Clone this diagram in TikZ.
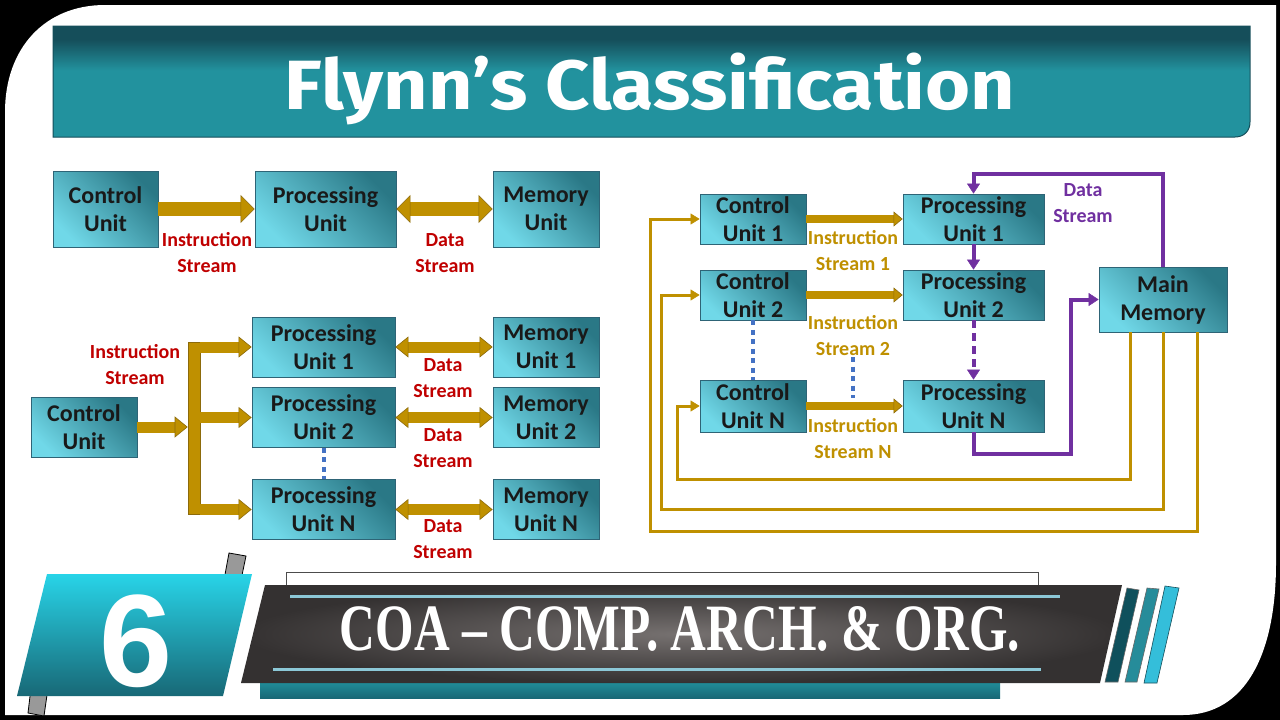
\documentclass[tikz,border=0pt]{standalone}
\usepackage{graphicx}
\usepackage{fontspec}
\setmainfont{Carlito}
\newfontfamily\titlefont{Fira Sans}
\newfontfamily\numfont{Liberation Sans}
\newfontfamily\bannerfont{Liberation Serif}
\usetikzlibrary{arrows.meta, positioning, calc}

\definecolor{boxlight}{RGB}{112,216,232}
\definecolor{boxdark}{RGB}{42,120,134}
\definecolor{boxedge}{RGB}{46,100,118}
\definecolor{gold}{RGB}{191,144,0}
\definecolor{golddark}{RGB}{140,106,10}
\definecolor{streamred}{RGB}{192,0,0}
\definecolor{streampurple}{RGB}{112,48,160}
\definecolor{dotblue}{RGB}{68,114,196}
\definecolor{tealdark}{RGB}{21,78,90}
\definecolor{tealmid}{RGB}{34,146,158}
\definecolor{tealdeep}{RGB}{24,104,118}
\definecolor{cyanbright}{RGB}{40,212,232}
\definecolor{greydark}{RGB}{52,49,49}
\definecolor{greymid}{RGB}{118,113,112}
\definecolor{linecyan}{RGB}{140,200,215}

\pgfdeclareverticalshading{titleband}{100bp}{color(0bp)=(tealmid); color(55bp)=(tealmid); color(69bp)=(tealdark); color(100bp)=(tealdark)}

\begin{document}
\begin{tikzpicture}[x=1pt, y=-1pt,
    % Node styles
    unit/.style={rectangle, draw=boxedge, line width=0.8pt, left color=boxlight, right color=boxdark, shading angle=135, align=center, font=\fontsize{24}{28}\selectfont\bfseries, text=black!90, inner sep=0pt},
    redlabel/.style={font=\fontsize{20}{26}\selectfont\bfseries, text=streamred, align=center, inner sep=0pt},
    goldlabel/.style={font=\fontsize{20}{26}\selectfont\bfseries, text=gold, align=center, inner sep=0pt},
    purplelabel/.style={font=\fontsize{20}{26}\selectfont\bfseries, text=streampurple, align=center, inner sep=0pt},
    % Connector styles
    fat/.style={line width=14pt, draw=gold, -{Triangle[length=14pt, width=28pt, line width=0.6pt, color=golddark, fill=gold]}},
    fatboth/.style={line width=14pt, draw=gold, {Triangle[length=14pt, width=28pt, line width=0.6pt, color=golddark, fill=gold]}-{Triangle[length=14pt, width=28pt, line width=0.6pt, color=golddark, fill=gold]}},
    mid/.style={line width=11pt, draw=gold, -{Triangle[length=13pt, width=21pt, line width=0.6pt, color=golddark, fill=gold]}},
    midboth/.style={line width=11pt, draw=gold, {Triangle[length=13pt, width=21pt, line width=0.6pt, color=golddark, fill=gold]}-{Triangle[length=13pt, width=21pt, line width=0.6pt, color=golddark, fill=gold]}},
    slim/.style={line width=8pt, draw=gold, -{Triangle[length=9pt, width=15pt, line width=0.6pt, color=golddark, fill=gold]}},
    feedback/.style={line width=3pt, draw=gold, -{Triangle[length=9pt, width=11pt, line width=0.5pt]}},
    dataline/.style={line width=4pt, draw=streampurple, -{Triangle[length=10pt, width=13pt, line width=0.5pt]}},
    dots/.style={line width=4pt, draw=dotblue, dash pattern=on 5pt off 4.5pt},
]
\useasboundingbox (0,0) rectangle (1280,720);

% === Frame ===
\fill[black] (0,0) rectangle (1280,720);
\fill[white] (5,112) .. controls (5,48) and (45,5) .. (105,5) -- (1276,5) -- (1276,563) .. controls (1276,655) and (1245,715) .. (1183,715) -- (5,715) -- cycle;

% === Title ===
\shade[shading=titleband, draw=tealdark, line width=1pt] (53,26) -- (1250,26) -- (1250,122) .. controls (1250,131) and (1244,137) .. (1235,137) -- (53,137) -- cycle;
\node[text=white, inner sep=0pt] (title) at (650,89) {\resizebox*{730pt}{72pt}{\titlefont\bfseries Flynn’s Classification}};

% === SISD ===
\node[unit, minimum width=105pt, minimum height=76pt] (cuA) at (105.5,209) {Control\\Unit};
\node[unit, minimum width=141pt, minimum height=76pt] (puA) at (325.5,209) {Processing\\Unit};
\node[unit, minimum width=106pt, minimum height=76pt] (muA) at (546,209) {Memory\\Unit};
\draw[fat] (cuA) -- (puA);
\draw[fatboth] (puA) -- (muA);
\node[redlabel] (isA) at (207,253) {Instruction\\Stream};
\node[redlabel] (dsA) at (445,253) {Data\\Stream};

% === SIMD ===
\node[unit, minimum width=106pt, minimum height=60pt] (cuB) at (84,427) {Control\\Unit};
\node[fill=gold, draw=golddark, line width=0.6pt, minimum width=12pt, minimum height=172pt, inner sep=0pt] (bus) at (194,428) {};
\node[unit, minimum width=143pt, minimum height=60pt] (puB1) at (323.5,347) {Processing\\Unit 1};
\node[unit, minimum width=143pt, minimum height=60pt] (puB2) at (323.5,417.5) {Processing\\Unit 2};
\node[unit, minimum width=143pt, minimum height=60pt] (puBn) at (323.5,509.5) {Processing\\Unit N};
\node[unit, minimum width=106pt, minimum height=60pt] (muB1) at (546,347) {Memory\\Unit 1};
\node[unit, minimum width=106pt, minimum height=60pt] (muB2) at (546,417.5) {Memory\\Unit 2};
\node[unit, minimum width=106pt, minimum height=60pt] (muBn) at (546,509.5) {Memory\\Unit N};

\draw[mid] (cuB) -- (bus.west |- cuB);
\foreach \p in {puB1, puB2, puBn}
    \draw[mid] (bus.east |- \p) -- (\p);
\draw[midboth] (puB1) -- (muB1);
\draw[midboth] (puB2) -- (muB2);
\draw[midboth] (puBn) -- (muBn);
\draw[dots] (puB2) -- (puBn);

\node[redlabel] (isB) at (135,365) {Instruction\\Stream};
\node[redlabel] (dsB1) at (443,378) {Data\\Stream};
\node[redlabel] (dsB2) at (443,448) {Data\\Stream};
\node[redlabel] (dsBn) at (443,539) {Data\\Stream};

% === MIMD ===
\node[unit, minimum width=106pt, minimum height=50pt] (cuC1) at (753,219) {Control\\Unit 1};
\node[unit, minimum width=106pt, minimum height=50pt] (cuC2) at (753,295) {Control\\Unit 2};
\node[unit, minimum width=106pt, minimum height=52pt] (cuCn) at (753,406) {Control\\Unit N};
\node[unit, minimum width=141pt, minimum height=50pt] (puC1) at (973.5,219) {Processing\\Unit 1};
\node[unit, minimum width=141pt, minimum height=50pt] (puC2) at (973.5,295) {Processing\\Unit 2};
\node[unit, minimum width=141pt, minimum height=52pt] (puCn) at (973.5,406) {Processing\\Unit N};
\node[unit, minimum width=128pt, minimum height=65pt] (mem) at (1163,299.5) {Main\\Memory};

\draw[slim] (cuC1) -- (puC1);
\draw[slim] (cuC2) -- (puC2);
\draw[slim] (cuCn) -- (puCn);
\node[goldlabel] (isC1) at (853,251) {Instruction\\Stream 1};
\node[goldlabel] (isC2) at (853,336) {Instruction\\Stream 2};
\node[goldlabel] (isCn) at (853,439) {Instruction\\Stream N};

\draw[dots] (cuC2) -- (cuCn);
\coordinate (dotT) at (853,357);
\coordinate (dotB) at (853,398);
\draw[dots] (dotT) -- (dotB);

% data stream loop
\coordinate (dtop) at (0,174);
\coordinate (dbot) at (1071,454);
\draw[dataline] (mem.north) -- (mem.north |- dtop) -| (puC1.north);
\draw[dataline] (puC1) -- (puC2);
\draw[dataline, dash pattern=on 8pt off 5pt] (puC2) -- (puCn);
\draw[dataline] (puCn.south) |- (dbot) |- (mem.west);
\node[purplelabel] (dsC) at (1083,203) {Data\\Stream};

% instruction return lines
\coordinate (rN) at (677,479);
\coordinate (r2) at (661,509);
\coordinate (r1) at (650,531);
\draw[feedback] ([xshift=-33pt]mem.south) |- (rN) |- (cuCn.west);
\draw[feedback] (mem.south) |- (r2) |- (cuC2.west);
\draw[feedback] ([xshift=34pt]mem.south) |- (r1) |- (cuC1.west);

% === Bottom banner ===
\filldraw[fill=black!40, draw=black, line width=0.8pt] (229,553) -- (246,556) -- (241,580) -- (224,580) -- cycle;
\filldraw[fill=black!40, draw=black, line width=0.8pt] (31,688) -- (48,688) -- (44,716) -- (28,713) -- cycle;
\shade[top color=cyanbright, middle color=tealmid, bottom color=tealdeep] (47,574) -- (252,574) -- (223,696) -- (17,696) -- cycle;
\node[text=white, inner sep=0pt] (num) at (136,641) {\resizebox*{!}{93pt}{\numfont\bfseries 6}};

\draw[black!70, line width=0.8pt] (286,586) -- (286,572) -- (1038,572) -- (1038,586);
\shade[top color=tealmid, bottom color=tealdeep] (260,680) rectangle (1000,698);
\shade[inner color=greymid, outer color=greydark] (265,585) -- (1122,585) -- (1100,683) -- (241,683) -- cycle;
\draw[linecyan, line width=3pt] (290,596) -- (1060,596);
\draw[linecyan, line width=3pt] (273,669) -- (1041,669);
\node[text=white, inner sep=0pt] (course) at (680,629) {\resizebox{680pt}{44pt}{\bannerfont\bfseries COA – COMP. ARCH. \& ORG.}};

\filldraw[fill={rgb,255:red,15;green,80;blue,92}, draw=black!60, line width=0.6pt] (1127,588) -- (1139,590) -- (1118,682) -- (1105,682) -- cycle;
\filldraw[fill={rgb,255:red,38;green,140;blue,154}, draw=black!60, line width=0.6pt] (1147,588) -- (1159,589) -- (1137,682) -- (1125,682) -- cycle;
\filldraw[fill={rgb,255:red,52;green,190;blue,218}, draw=tealdark, line width=0.6pt] (1165,586) -- (1179,588) -- (1157,683) -- (1144,683) -- cycle;

\end{tikzpicture}
\end{document}
